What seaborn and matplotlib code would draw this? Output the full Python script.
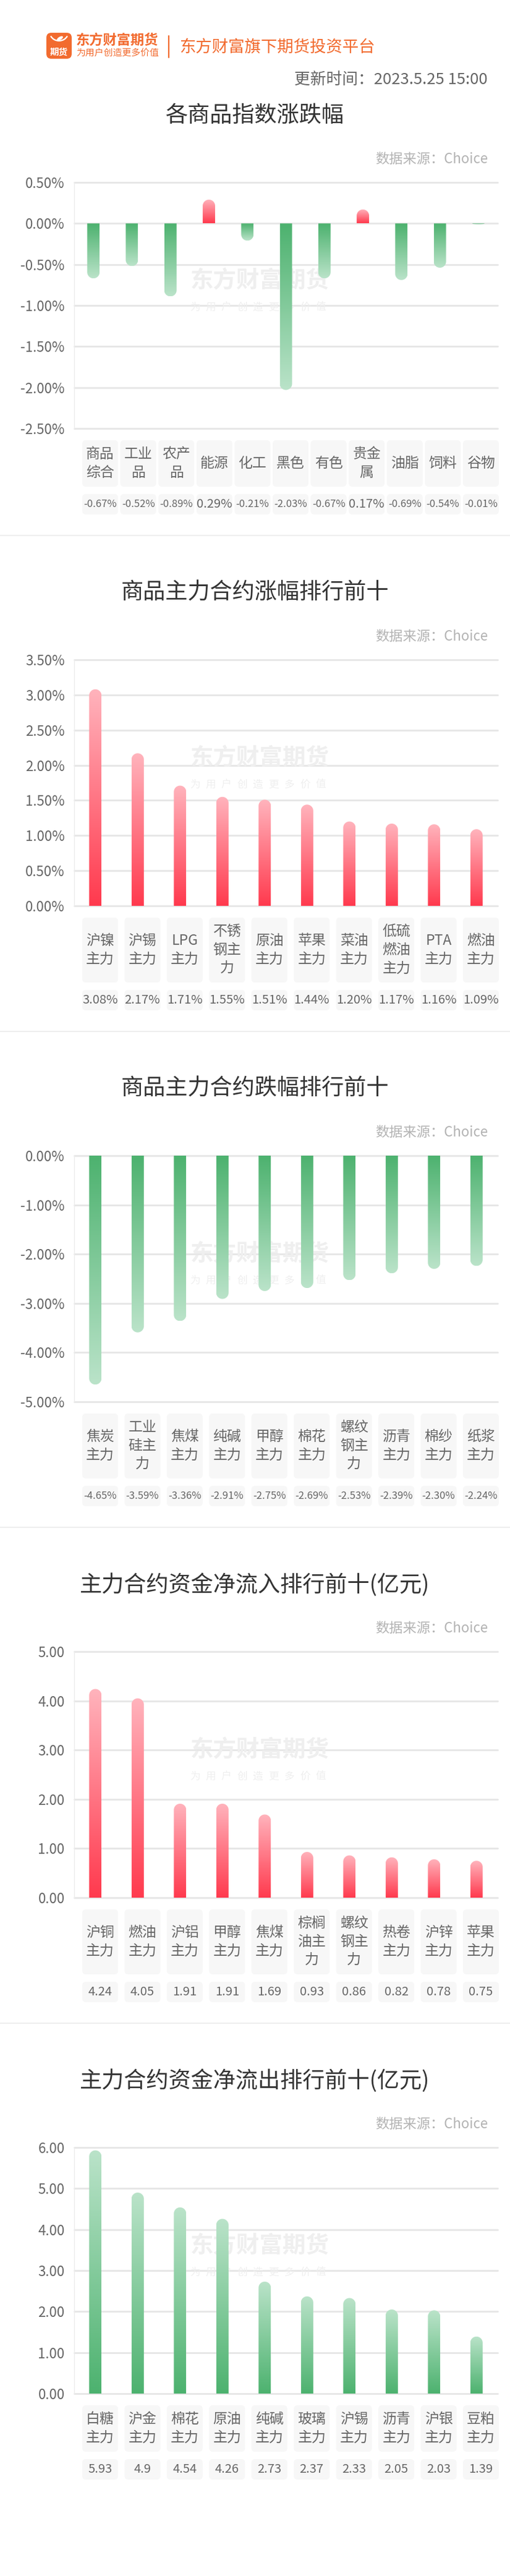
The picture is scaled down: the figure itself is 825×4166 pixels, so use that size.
import numpy as np
import matplotlib
matplotlib.use("Agg")
import matplotlib.pyplot as plt
import seaborn as sns
from matplotlib.patches import FancyBboxPatch, PathPatch, Arc, Ellipse
from matplotlib.path import Path
from matplotlib.lines import Line2D
from matplotlib.transforms import IdentityTransform
from matplotlib.colors import to_rgb
from matplotlib.ticker import FuncFormatter

# ---- data ----
idx_names = ["商品综合", "工业品", "农产品", "能源", "化工", "黑色", "有色", "贵金属", "油脂", "饲料", "谷物"]
idx_change = [-0.67, -0.52, -0.89, 0.29, -0.21, -2.03, -0.67, 0.17, -0.69, -0.54, -0.01]

up_names = ["沪镍主力", "沪锡主力", "LPG主力", "不锈钢主力", "原油主力", "苹果主力", "菜油主力", "低硫燃油主力", "PTA主力", "燃油主力"]
up_change = [3.08, 2.17, 1.71, 1.55, 1.51, 1.44, 1.20, 1.17, 1.16, 1.09]

down_names = ["焦炭主力", "工业硅主力", "焦煤主力", "纯碱主力", "甲醇主力", "棉花主力", "螺纹钢主力", "沥青主力", "棉纱主力", "纸浆主力"]
down_change = [-4.65, -3.59, -3.36, -2.91, -2.75, -2.69, -2.53, -2.39, -2.30, -2.24]

inflow_names = ["沪铜主力", "燃油主力", "沪铝主力", "甲醇主力", "焦煤主力", "棕榈油主力", "螺纹钢主力", "热卷主力", "沪锌主力", "苹果主力"]
inflow_value = [4.24, 4.05, 1.91, 1.91, 1.69, 0.93, 0.86, 0.82, 0.78, 0.75]

outflow_names = ["白糖主力", "沪金主力", "棉花主力", "原油主力", "纯碱主力", "玻璃主力", "沪锡主力", "沥青主力", "沪银主力", "豆粕主力"]
outflow_value = [5.93, 4.9, 4.54, 4.26, 2.73, 2.37, 2.33, 2.05, 2.03, 1.39]

W, H = 825, 4166
ORANGE = "#F26B2F"
RED = ("#FF3A4E", "#FFB3BC")     # base, tip
GREEN = ("#4DB26F", "#BAE3C9")

sns.set_theme(style="white")
plt.rcParams['font.family'] = ['Noto Sans CJK SC', 'DejaVu Sans']

fig = plt.figure(figsize=(W / 100, H / 100), dpi=100)
fig.patch.set_facecolor("white")
PIX = IdentityTransform()


def ftext(x, y, s, **kw):
    # x, y in pixels, y measured from the top
    return fig.text(x, H - y, s, transform=PIX, **kw)


def fbox(x, y, w, h, color, r=6):
    p = FancyBboxPatch((x, H - y - h), w, h, boxstyle=f"round,pad=0,rounding_size={r}",
                       fc=color, ec="none", transform=PIX)
    fig.add_artist(p)


def wrap(name):
    # latin prefix on its own line, then two characters per line
    i = 0
    while i < len(name) and name[i].isascii():
        i += 1
    lines = [name[:i]] if i else []
    rest = name[i:]
    lines += [rest[k:k + 2] for k in range(0, len(rest), 2)]
    return lines


# ---- header ----
fbox(75, 53, 41, 42, ORANGE, r=8)
fig.add_artist(Arc((95.5, H - 52), 30, 28, theta1=205, theta2=335, color="white", lw=1.6, transform=PIX))
fig.add_artist(Ellipse((97, H - 62), 11, 5, angle=30, fc="white", ec="none", transform=PIX))
ftext(95.5, 84, "期货", color="white", fontsize=10.5, fontweight="bold", ha="center", va="center")
ftext(123, 65, "东方财富期货", color=ORANGE, fontsize=16, fontweight="bold", va="center")
ftext(123, 87, "为用户创造更多价值", color=ORANGE, fontsize=10.7, va="center")
fig.add_artist(Line2D([273, 273], [H - 58, H - 93], color=ORANGE, lw=1.5, transform=PIX))
ftext(290, 77, "东方财富旗下期货投资平台", color=ORANGE, fontsize=19, va="center")
ftext(789, 130, "更新时间：2023.5.25 15:00", color="#666666", fontsize=18.5, ha="right", va="center")


def draw_panel(top, title, names, values, ylim, step, pct, all_green=False, last=False):
    ftext(412.5, top + 93, title, fontsize=26, color="#333333", ha="center", va="center")
    ftext(789, top + 164, "数据来源：Choice", fontsize=16, color="#b3b3b3", ha="right", va="center")

    plot_top, plot_h, plot_l, plot_w = top + 201, 398, 120, 685
    ax = fig.add_axes([plot_l / W, (H - plot_top - plot_h) / H, plot_w / W, plot_h / H])
    n = len(names)
    sns.barplot(x=names, y=values, ax=ax, width=20 / (plot_w / n), color="#cccccc",
                errorbar=None, zorder=3)
    ax.set_xlim(-0.5, n - 0.5)
    ax.set_ylim(*ylim)
    ax.set_yticks(np.arange(ylim[0], ylim[1] + step / 2, step))
    ax.yaxis.set_major_formatter(FuncFormatter(
        lambda v, _: f"{v:.2f}%" if pct else f"{v:.2f}"))
    ax.set_xticks([])
    ax.set_xlabel("")
    ax.set_ylabel("")
    ax.grid(axis="y", color="#e6e6e6", lw=2)
    ax.set_axisbelow(True)
    for line in ax.get_ygridlines():
        line.set_clip_on(False)
    for s in ["top", "right", "bottom"]:
        ax.spines[s].set_visible(False)
    ax.spines["left"].set_color("#ececec")
    ax.spines["left"].set_linewidth(1)
    ax.tick_params(axis="y", length=0, pad=11, labelsize=16, labelcolor="#666666")

    # gradient bars with a rounded tip
    grad = np.linspace(0, 1, 80)[:, None]
    for bar, v in zip(list(ax.patches), values):
        bar.set_visible(False)
        base, tip = GREEN if (all_green or v < 0) else RED
        c0, c1 = np.array(to_rgb(base)), np.array(to_rgb(tip))
        img = (c0 + (c1 - c0) * grad)[:, None, :]
        if v < 0:
            img = img[::-1]
        x0, w = bar.get_x(), bar.get_width()
        Lx, By = ax.transData.transform((x0, 0))
        Rx, Ty = ax.transData.transform((x0 + w, v))
        sgn = 1 if Ty >= By else -1
        rx = (Rx - Lx) / 2
        ry = min(rx, abs(Ty - By))
        cy = Ty - sgn * ry
        th = np.linspace(np.pi, 0, 30)
        arc = np.column_stack([Lx + rx + rx * np.cos(th), cy + sgn * ry * np.sin(th)])
        verts = np.vstack([[Lx, By], [Lx, cy], arc, [Rx, By], [Lx, By]])
        codes = [Path.MOVETO] + [Path.LINETO] * (len(verts) - 2) + [Path.CLOSEPOLY]
        clip = PathPatch(Path(verts, codes), transform=PIX, fc="none", ec="none")
        im = ax.imshow(img, extent=(x0, x0 + w, min(0, v), max(0, v)), origin="lower",
                       aspect="auto", zorder=3, interpolation="bilinear")
        im.set_clip_path(clip)
    ax.set_xlim(-0.5, n - 0.5)
    ax.set_ylim(*ylim)

    # watermark
    mid = plot_top + plot_h / 2
    ax.text(420, H - (mid - 40), "东方财富期货", transform=PIX, fontsize=27, fontweight="bold",
            color="#efefef", ha="center", va="center", zorder=1)
    for k, ch in enumerate("为用户创造更多价值"):
        ax.text(417 + (k - 4) * 25.5, H - (mid + 3), ch, transform=PIX, fontsize=12,
                color="#efefef", ha="center", va="center", zorder=1)

    # category and value boxes
    nl = max(len(wrap(s)) for s in names)
    box_top = plot_top + plot_h + 19
    box_h = 15 + 30 * nl
    val_top = box_top + box_h + 12
    centers = np.linspace(plot_l + 42, plot_l + plot_w - 27, n)
    for cx, name, v in zip(centers, names, values):
        fbox(cx - 29, box_top, 58, box_h, "#f7f7f7")
        lines = wrap(name)
        c = box_top + box_h / 2
        for k, line in enumerate(lines):
            ftext(cx, c + (k - (len(lines) - 1) / 2) * 30, line, fontsize=16.5,
                  color="#666666", ha="center", va="center")
        fbox(cx - 29, val_top, 58, 33, "#f7f7f7")
        label = f"{v:.2f}%" if pct else f"{v:g}"
        fs = 14.5 if len(label) <= 5 else 12
        ftext(cx, val_top + 16.5, label, fontsize=fs, color="#666666", ha="center", va="center")

    bottom = val_top + 33 + 34
    if not last:
        fig.add_artist(Line2D([0, W], [H - bottom, H - bottom], color="#eeeeee", lw=1.5, transform=PIX))
    return bottom


top = 94
top = draw_panel(top, "各商品指数涨跌幅", idx_names, idx_change, (-2.5, 0.5), 0.5, True)
top = draw_panel(top, "商品主力合约涨幅排行前十", up_names, up_change, (0, 3.5), 0.5, True)
top = draw_panel(top, "商品主力合约跌幅排行前十", down_names, down_change, (-5, 0), 1, True)
top = draw_panel(top, "主力合约资金净流入排行前十(亿元)", inflow_names, inflow_value, (0, 5), 1, False)
top = draw_panel(top, "主力合约资金净流出排行前十(亿元)", outflow_names, outflow_value, (0, 6), 1, False,
                 all_green=True, last=True)

fig.savefig("out.png", dpi=100, facecolor="white")
